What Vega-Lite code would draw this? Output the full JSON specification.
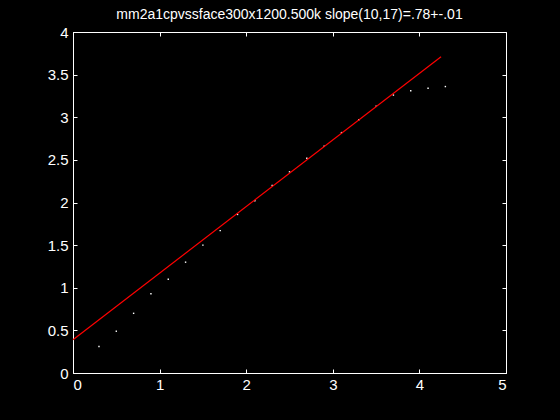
{
  "$schema": "https://vega.github.io/schema/vega-lite/v6.json",
  "width": 433,
  "height": 341,
  "autosize": {"type": "none"},
  "padding": {"left": 73, "top": 32, "right": 54, "bottom": 47},
  "background": "black",
  "title": {
    "text": "mm2a1cpvssface300x1200.500k slope(10,17)=.78+-.01",
    "color": "white",
    "font": "Liberation Sans",
    "fontSize": 14,
    "fontWeight": "normal",
    "anchor": "middle",
    "offset": 3
  },
  "config": {
    "view": {"stroke": "white", "strokeWidth": 1},
    "axis": {
      "domainColor": "white",
      "domainWidth": 1,
      "tickColor": "white",
      "tickWidth": 1,
      "tickSize": -4,
      "labelColor": "white",
      "labelFont": "Liberation Sans",
      "labelFontSize": 15,
      "grid": false,
      "title": null
    }
  },
  "datasets": {
    "pts": [
      {"x": 0.3, "y": 0.31},
      {"x": 0.5, "y": 0.49},
      {"x": 0.7, "y": 0.70},
      {"x": 0.9, "y": 0.93},
      {"x": 1.1, "y": 1.10},
      {"x": 1.3, "y": 1.30},
      {"x": 1.5, "y": 1.50},
      {"x": 1.7, "y": 1.67},
      {"x": 1.9, "y": 1.86},
      {"x": 2.1, "y": 2.02},
      {"x": 2.3, "y": 2.20},
      {"x": 2.5, "y": 2.36},
      {"x": 2.7, "y": 2.52},
      {"x": 2.9, "y": 2.66},
      {"x": 3.1, "y": 2.82},
      {"x": 3.3, "y": 2.97},
      {"x": 3.5, "y": 3.13},
      {"x": 3.7, "y": 3.26},
      {"x": 3.9, "y": 3.31},
      {"x": 4.1, "y": 3.34},
      {"x": 4.3, "y": 3.36}
    ],
    "fit": [
      {"x": 0, "y": 0.39},
      {"x": 4.25, "y": 3.71}
    ]
  },
  "layer": [
    {
      "data": {"name": "pts"},
      "mark": {"type": "square", "size": 2, "color": "white", "opacity": 1, "filled": true},
      "encoding": {
        "x": {"field": "x", "type": "quantitative", "scale": {"domain": [0, 5], "nice": false, "zero": false},
          "axis": {"orient": "bottom", "values": [0, 1, 2, 3, 4, 5], "format": "~g", "labelPadding": 8}},
        "y": {"field": "y", "type": "quantitative", "scale": {"domain": [0, 4], "nice": false, "zero": false},
          "axis": {"orient": "left", "values": [0, 0.5, 1, 1.5, 2, 2.5, 3, 3.5, 4], "format": "~g", "labelPadding": 9}}
      }
    },
    {
      "data": {"name": "fit"},
      "mark": {"type": "line", "color": "#ff0000", "strokeWidth": 1.2},
      "encoding": {
        "x": {"field": "x", "type": "quantitative", "scale": {"domain": [0, 5], "nice": false, "zero": false},
          "axis": {"orient": "top", "values": [0, 1, 2, 3, 4, 5], "labels": false}},
        "y": {"field": "y", "type": "quantitative", "scale": {"domain": [0, 4], "nice": false, "zero": false},
          "axis": {"orient": "right", "values": [0, 0.5, 1, 1.5, 2, 2.5, 3, 3.5, 4], "labels": false}}
      }
    }
  ],
  "resolve": {"axis": {"x": "independent", "y": "independent"}}
}
